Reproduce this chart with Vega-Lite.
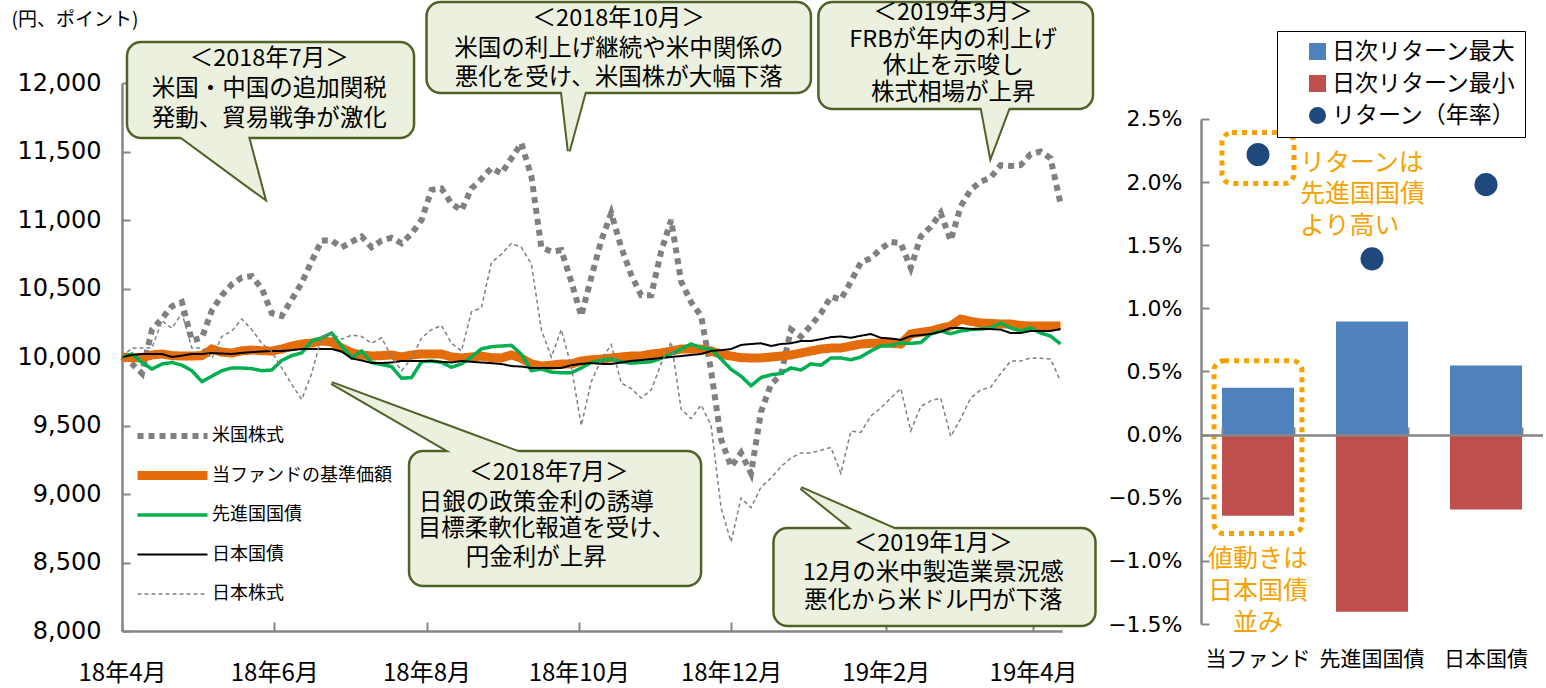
{
"$schema":"https://vega.github.io/schema/vega-lite/v6.json",
"background":"white",
"padding":{"left":11,"top":0,"right":0,"bottom":0},
"spacing":10,
"resolve":{"scale":{"color":"independent","shape":"independent","strokeDash":"independent","strokeWidth":"independent"},"legend":{"color":"independent","shape":"independent","strokeDash":"independent","strokeWidth":"independent"}},
"config":{"view":{"stroke":null},"axis":{"grid":false},"text":{"font":"Noto Sans CJK JP"}},
"datasets":{
"ts":[
{"d":"2018-04-01","us":10000,"fd":10000,"dv":10000,"jg":10000,"jp":10000},
{"d":"2018-04-05","us":9950,"fd":9995,"dv":10022,"jg":10015,"jp":10066},
{"d":"2018-04-09","us":9880,"fd":9995,"dv":9960,"jg":10022,"jp":10066},
{"d":"2018-04-13","us":10200,"fd":10015,"dv":9912,"jg":10022,"jp":10066},
{"d":"2018-04-17","us":10280,"fd":10022,"dv":9949,"jg":10022,"jp":10263},
{"d":"2018-04-21","us":10370,"fd":10010,"dv":9960,"jg":10000,"jp":10210},
{"d":"2018-04-25","us":10400,"fd":10007,"dv":9940,"jg":10010,"jp":10320},
{"d":"2018-04-29","us":10120,"fd":10007,"dv":9900,"jg":10022,"jp":10066},
{"d":"2018-05-03","us":10140,"fd":10010,"dv":9820,"jg":10022,"jp":10066},
{"d":"2018-05-07","us":10340,"fd":10058,"dv":9860,"jg":10029,"jp":9990},
{"d":"2018-05-11","us":10450,"fd":10035,"dv":9900,"jg":10025,"jp":10150},
{"d":"2018-05-15","us":10530,"fd":10029,"dv":9920,"jg":10022,"jp":10190},
{"d":"2018-05-19","us":10580,"fd":10045,"dv":9920,"jg":10030,"jp":10277},
{"d":"2018-05-23","us":10590,"fd":10051,"dv":9915,"jg":10036,"jp":10200},
{"d":"2018-05-27","us":10500,"fd":10046,"dv":9900,"jg":10040,"jp":10100},
{"d":"2018-05-31","us":10320,"fd":10044,"dv":9905,"jg":10044,"jp":10040},
{"d":"2018-06-04","us":10300,"fd":10058,"dv":9975,"jg":10044,"jp":9920},
{"d":"2018-06-08","us":10420,"fd":10080,"dv":10010,"jg":10050,"jp":9800},
{"d":"2018-06-12","us":10540,"fd":10095,"dv":10030,"jg":10058,"jp":9690},
{"d":"2018-06-16","us":10700,"fd":10102,"dv":10117,"jg":10058,"jp":9880},
{"d":"2018-06-20","us":10850,"fd":10117,"dv":10140,"jg":10058,"jp":10150},
{"d":"2018-06-24","us":10850,"fd":10110,"dv":10175,"jg":10058,"jp":10170},
{"d":"2018-06-28","us":10800,"fd":10066,"dv":10080,"jg":10040,"jp":10130},
{"d":"2018-07-02","us":10840,"fd":10032,"dv":9993,"jg":9990,"jp":10160},
{"d":"2018-07-06","us":10880,"fd":10015,"dv":10044,"jg":9975,"jp":10150},
{"d":"2018-07-10","us":10800,"fd":10007,"dv":9960,"jg":9956,"jp":10100},
{"d":"2018-07-14","us":10850,"fd":10010,"dv":9945,"jg":9956,"jp":10140},
{"d":"2018-07-18","us":10870,"fd":10015,"dv":9930,"jg":9960,"jp":10000},
{"d":"2018-07-22","us":10830,"fd":10000,"dv":9845,"jg":9971,"jp":9900},
{"d":"2018-07-26","us":10900,"fd":10015,"dv":9850,"jg":9971,"jp":9990},
{"d":"2018-07-30","us":11000,"fd":10022,"dv":9965,"jg":9971,"jp":10140},
{"d":"2018-08-03","us":11220,"fd":10022,"dv":9971,"jg":9971,"jp":10200},
{"d":"2018-08-07","us":11230,"fd":10022,"dv":9960,"jg":9965,"jp":10230},
{"d":"2018-08-11","us":11120,"fd":10000,"dv":9925,"jg":9960,"jp":10100},
{"d":"2018-08-15","us":11070,"fd":9993,"dv":9950,"jg":9971,"jp":10044},
{"d":"2018-08-19","us":11230,"fd":10000,"dv":10000,"jg":9965,"jp":10330},
{"d":"2018-08-23","us":11300,"fd":10007,"dv":10060,"jg":9960,"jp":10360},
{"d":"2018-08-27","us":11380,"fd":9995,"dv":10075,"jg":9955,"jp":10690},
{"d":"2018-08-31","us":11340,"fd":9993,"dv":10080,"jg":9949,"jp":10750},
{"d":"2018-09-04","us":11450,"fd":10015,"dv":10085,"jg":9934,"jp":10830},
{"d":"2018-09-08","us":11560,"fd":9990,"dv":10020,"jg":9930,"jp":10800},
{"d":"2018-09-12","us":11320,"fd":9950,"dv":9900,"jg":9920,"jp":10680},
{"d":"2018-09-16","us":10800,"fd":9934,"dv":9912,"jg":9920,"jp":10200},
{"d":"2018-09-20","us":10770,"fd":9940,"dv":9890,"jg":9920,"jp":10000},
{"d":"2018-09-24","us":10780,"fd":9949,"dv":9885,"jg":9920,"jp":10200},
{"d":"2018-09-28","us":10550,"fd":9949,"dv":9885,"jg":9940,"jp":9930},
{"d":"2018-10-02","us":10300,"fd":9971,"dv":9920,"jg":9950,"jp":9500},
{"d":"2018-10-06","us":10580,"fd":9980,"dv":9960,"jg":9956,"jp":9820},
{"d":"2018-10-10","us":10850,"fd":9985,"dv":9975,"jg":9950,"jp":9980},
{"d":"2018-10-14","us":11050,"fd":9993,"dv":9985,"jg":9949,"jp":10090},
{"d":"2018-10-18","us":10800,"fd":10000,"dv":9965,"jg":9960,"jp":9810},
{"d":"2018-10-22","us":10600,"fd":10007,"dv":9955,"jg":9971,"jp":9770},
{"d":"2018-10-26","us":10450,"fd":10007,"dv":9960,"jg":9978,"jp":9700},
{"d":"2018-10-30","us":10450,"fd":10022,"dv":9965,"jg":9985,"jp":9760},
{"d":"2018-11-03","us":10770,"fd":10029,"dv":9990,"jg":9993,"jp":9950},
{"d":"2018-11-07","us":11000,"fd":10044,"dv":10020,"jg":10000,"jp":10110},
{"d":"2018-11-11","us":10550,"fd":10058,"dv":10058,"jg":10007,"jp":9620},
{"d":"2018-11-15","us":10400,"fd":10058,"dv":10095,"jg":10015,"jp":9550},
{"d":"2018-11-19","us":10300,"fd":10058,"dv":10066,"jg":10022,"jp":9650},
{"d":"2018-11-23","us":9900,"fd":10044,"dv":10058,"jg":10044,"jp":9500},
{"d":"2018-11-27","us":9400,"fd":10020,"dv":9985,"jg":10050,"jp":8900},
{"d":"2018-12-01","us":9200,"fd":10007,"dv":9910,"jg":10058,"jp":8650},
{"d":"2018-12-05","us":9300,"fd":9995,"dv":9860,"jg":10088,"jp":8970},
{"d":"2018-12-09","us":9150,"fd":9993,"dv":9790,"jg":10095,"jp":8900},
{"d":"2018-12-13","us":9600,"fd":9993,"dv":9850,"jg":10100,"jp":9050},
{"d":"2018-12-17","us":9800,"fd":10000,"dv":9870,"jg":10080,"jp":9117},
{"d":"2018-12-21","us":9870,"fd":10007,"dv":9880,"jg":10095,"jp":9200},
{"d":"2018-12-25","us":10200,"fd":10015,"dv":9920,"jg":10100,"jp":9263},
{"d":"2018-12-29","us":10150,"fd":10029,"dv":9905,"jg":10117,"jp":9300},
{"d":"2019-01-02","us":10230,"fd":10044,"dv":9950,"jg":10117,"jp":9300},
{"d":"2019-01-06","us":10320,"fd":10058,"dv":9940,"jg":10130,"jp":9320},
{"d":"2019-01-10","us":10440,"fd":10065,"dv":9993,"jg":10145,"jp":9340},
{"d":"2019-01-14","us":10420,"fd":10066,"dv":9993,"jg":10150,"jp":9150},
{"d":"2019-01-18","us":10550,"fd":10080,"dv":9980,"jg":10140,"jp":9460},
{"d":"2019-01-22","us":10690,"fd":10095,"dv":10000,"jg":10155,"jp":9450},
{"d":"2019-01-26","us":10720,"fd":10100,"dv":10044,"jg":10168,"jp":9570},
{"d":"2019-01-30","us":10790,"fd":10102,"dv":10080,"jg":10140,"jp":9628},
{"d":"2019-02-03","us":10840,"fd":10100,"dv":10085,"jg":10135,"jp":9700},
{"d":"2019-02-07","us":10830,"fd":10095,"dv":10102,"jg":10125,"jp":9770},
{"d":"2019-02-11","us":10650,"fd":10168,"dv":10100,"jg":10153,"jp":9460},
{"d":"2019-02-15","us":10880,"fd":10180,"dv":10105,"jg":10160,"jp":9640},
{"d":"2019-02-19","us":10950,"fd":10190,"dv":10168,"jg":10168,"jp":9680},
{"d":"2019-02-23","us":11050,"fd":10210,"dv":10190,"jg":10185,"jp":9700},
{"d":"2019-02-27","us":10850,"fd":10226,"dv":10170,"jg":10212,"jp":9420},
{"d":"2019-03-03","us":11100,"fd":10277,"dv":10190,"jg":10212,"jp":9550},
{"d":"2019-03-07","us":11220,"fd":10260,"dv":10200,"jg":10205,"jp":9700},
{"d":"2019-03-11","us":11280,"fd":10248,"dv":10204,"jg":10204,"jp":9760},
{"d":"2019-03-15","us":11310,"fd":10245,"dv":10212,"jg":10204,"jp":9780},
{"d":"2019-03-19","us":11400,"fd":10241,"dv":10248,"jg":10200,"jp":9880},
{"d":"2019-03-23","us":11395,"fd":10241,"dv":10212,"jg":10175,"jp":9970},
{"d":"2019-03-27","us":11400,"fd":10230,"dv":10190,"jg":10175,"jp":9970},
{"d":"2019-03-31","us":11480,"fd":10226,"dv":10212,"jg":10190,"jp":9993},
{"d":"2019-04-04","us":11500,"fd":10226,"dv":10175,"jg":10190,"jp":9990},
{"d":"2019-04-08","us":11450,"fd":10226,"dv":10153,"jg":10190,"jp":9985},
{"d":"2019-04-12","us":11120,"fd":10226,"dv":10095,"jg":10204,"jp":9825}
],
"boxes":[
{"d1":"2018-04-03","d2":"2018-07-27","v1":12299,"v2":11598},
{"d1":"2018-08-01","d2":"2019-01-02","v1":12591,"v2":11927},
{"d1":"2019-01-05","d2":"2019-04-25","v1":12591,"v2":11810},
{"d1":"2018-07-25","d2":"2018-11-19","v1":9314,"v2":8328},
{"d1":"2018-12-18","d2":"2019-04-26","v1":8752,"v2":8036}
],
"tails":[
{"id":"A","d":"2018-04-22","hi":11642,"lo":11642},
{"id":"A","d":"2018-05-21","hi":11642,"lo":11253},
{"id":"A","d":"2018-05-28","hi":11161,"lo":11161},
{"id":"B","d":"2018-09-24","hi":11971,"lo":11971},
{"id":"B","d":"2018-09-27","hi":11971,"lo":11504},
{"id":"B","d":"2018-10-04","hi":11971,"lo":11971},
{"id":"C","d":"2019-03-11","hi":11854,"lo":11854},
{"id":"C","d":"2019-03-15","hi":11854,"lo":11467},
{"id":"C","d":"2019-03-23","hi":11854,"lo":11854},
{"id":"D","d":"2018-06-24","hi":9810,"lo":9810},
{"id":"D","d":"2018-08-14","hi":9466,"lo":9270},
{"id":"D","d":"2018-09-12","hi":9270,"lo":9270},
{"id":"E","d":"2018-12-29","hi":9044,"lo":9044},
{"id":"E","d":"2019-01-21","hi":8860,"lo":8708},
{"id":"E","d":"2019-02-09","hi":8708,"lo":8708}
],
"notes":[
{"d":"2018-05-30","v":12175,"t":"＜2018年7月＞"},
{"d":"2018-05-30","v":11956,"t":"米国・中国の追加関税"},
{"d":"2018-05-30","v":11737,"t":"発動、貿易戦争が激化"},
{"d":"2018-10-17","v":12467,"t":"＜2018年10月＞"},
{"d":"2018-10-17","v":12248,"t":"米国の利上げ継続や米中関係の"},
{"d":"2018-10-17","v":12037,"t":"悪化を受け、米国株が大幅下落"},
{"d":"2019-02-28","v":12511,"t":"＜2019年3月＞"},
{"d":"2019-02-28","v":12314,"t":"FRBが年内の利上げ"},
{"d":"2019-02-28","v":12124,"t":"休止を示唆し"},
{"d":"2019-02-28","v":11927,"t":"株式相場が上昇"},
{"d":"2018-09-19","v":9153,"t":"＜2018年7月＞"},
{"d":"2018-09-14","v":8934,"t":"日銀の政策金利の誘導"},
{"d":"2018-09-18","v":8745,"t":"目標柔軟化報道を受け、"},
{"d":"2018-09-14","v":8533,"t":"円金利が上昇"},
{"d":"2019-02-20","v":8635,"t":"＜2019年1月＞"},
{"d":"2019-02-20","v":8423,"t":"12月の米中製造業景況感"},
{"d":"2019-02-20","v":8219,"t":"悪化から米ドル円が下落"}
],
"bars":[
{"cat":"当ファンド","k":"日次リターン最大","v":0.00372},
{"cat":"当ファンド","k":"日次リターン最小","v":-0.00642},
{"cat":"先進国国債","k":"日次リターン最大","v":0.00895},
{"cat":"先進国国債","k":"日次リターン最小","v":-0.01402},
{"cat":"日本国債","k":"日次リターン最大","v":0.00547},
{"cat":"日本国債","k":"日次リターン最小","v":-0.00594}
],
"rets":[
{"cat":"当ファンド","k":"リターン（年率）","v":0.02218},
{"cat":"先進国国債","k":"リターン（年率）","v":0.01392},
{"cat":"日本国債","k":"リターン（年率）","v":0.0198}
],
"obox":[
{"cat":"当ファンド","g":"a","a":0.02392,"b":0.01988},
{"cat":"当ファンド","g":"b","a":0.00586,"b":-0.00784}
],
"onote":[
{"cat":"当ファンド","g":"r","v":0.02154,"t":"リターンは"},
{"cat":"当ファンド","g":"r","v":0.01909,"t":"先進国国債"},
{"cat":"当ファンド","g":"r","v":0.01655,"t":"より高い"},
{"cat":"当ファンド","g":"c","v":-0.00982,"t":"値動きは"},
{"cat":"当ファンド","g":"c","v":-0.01236,"t":"日本国債"},
{"cat":"当ファンド","g":"c","v":-0.01489,"t":"並み"}
]
},
"hconcat":[
{
"width":940,"height":548,
"layer":[
{
"data":{"name":"ts"},
"transform":[{"fold":["us","fd","dv","jg","jp"],"as":["s","v"]}],
"encoding":{
"x":{"field":"d","type":"temporal",
 "scale":{"type":"utc","nice":false,"domain":[{"year":2018,"month":4,"date":1,"utc":true},{"year":2019,"month":4,"date":12,"hours":14,"utc":true}]},
 "axis":{"title":null,"values":[{"year":2018,"month":4,"date":1,"utc":true},{"year":2018,"month":6,"date":1,"utc":true},{"year":2018,"month":8,"date":1,"utc":true},{"year":2018,"month":10,"date":1,"utc":true},{"year":2018,"month":12,"date":1,"utc":true},{"year":2019,"month":2,"date":1,"utc":true},{"year":2019,"month":4,"date":1,"utc":true}],
  "labelExpr":"utcFormat(datum.value,'%y') + '年' + (utcmonth(datum.value)+1) + '月'",
  "domainColor":"#868686","domainWidth":2.5,"tickColor":"#868686","tickWidth":2,"tickSize":-9,
  "labelFont":"Noto Sans CJK JP","labelFontSize":24,"labelColor":"#000","labelPadding":39,"labelFlush":false,"labelOverlap":false}},
"y":{"field":"v","type":"quantitative",
 "scale":{"domain":[8000,12000],"nice":false,"zero":false},
 "axis":{"title":"(円、ポイント)","values":[8000,8500,9000,9500,10000,10500,11000,11500,12000],"format":",d",
  "domainColor":"#868686","domainWidth":2.5,"tickColor":"#868686","tickWidth":2,"tickSize":-8,
  "labelFont":"DejaVu Sans","labelFontSize":24,"labelColor":"#000","labelPadding":29,
  "titleAngle":0,"titleX":-111,"titleY":-64,"titleAlign":"left","titleBaseline":"middle","titleFont":"Noto Sans CJK JP","titleFontSize":19,"titleFontWeight":"normal","titleColor":"#000"}},
"color":{"field":"s","type":"nominal","scale":{"domain":["us","fd","dv","jg","jp"],"range":["#808080","#E46C0A","#00B050","#000000","#808080"]},
 "legend":{"title":null,"orient":"none","legendX":11,"legendY":335,"symbolType":"stroke","symbolSize":4900,"clipHeight":36,"labelFont":"Noto Sans CJK JP","labelFontSize":18,"labelColor":"#000","labelLimit":400,"rowPadding":3.5,"labelOffset":0,"padding":0,
  "labelExpr":"datum.label==='us'?'米国株式':datum.label==='fd'?'当ファンドの基準価額':datum.label==='dv'?'先進国国債':datum.label==='jg'?'日本国債':'日本株式'"}},
"strokeDash":{"field":"s","type":"nominal","scale":{"domain":["us","fd","dv","jg","jp"],"range":[[6,5],[1,0],[1,0],[1,0],[4,3]]},
 "legend":{"title":null,"orient":"none","legendX":11,"legendY":335,"symbolType":"stroke","symbolSize":4900,"clipHeight":36,"labelFont":"Noto Sans CJK JP","labelFontSize":18,"labelColor":"#000","labelLimit":400,"rowPadding":3.5,"labelOffset":0,"padding":0,
  "labelExpr":"datum.label==='us'?'米国株式':datum.label==='fd'?'当ファンドの基準価額':datum.label==='dv'?'先進国国債':datum.label==='jg'?'日本国債':'日本株式'"}},
"strokeWidth":{"field":"s","type":"nominal","scale":{"type":"ordinal","domain":["us","fd","dv","jg","jp"],"range":[6,9,3.5,2,1.5]},
 "legend":{"title":null,"orient":"none","legendX":11,"legendY":335,"symbolType":"stroke","symbolSize":4900,"clipHeight":36,"labelFont":"Noto Sans CJK JP","labelFontSize":18,"labelColor":"#000","labelLimit":400,"rowPadding":3.5,"labelOffset":0,"padding":0,
  "labelExpr":"datum.label==='us'?'米国株式':datum.label==='fd'?'当ファンドの基準価額':datum.label==='dv'?'先進国国債':datum.label==='jg'?'日本国債':'日本株式'"}}
},
"layer":[
{"transform":[{"filter":"datum.s==='us'"}],"mark":{"type":"line"}},
{"transform":[{"filter":"datum.s==='fd'"}],"mark":{"type":"line"}},
{"transform":[{"filter":"datum.s==='dv'"}],"mark":{"type":"line"}},
{"transform":[{"filter":"datum.s==='jg'"}],"mark":{"type":"line"}},
{"transform":[{"filter":"datum.s==='jp'"}],"mark":{"type":"line"}}
]
},
{"data":{"name":"tails"},"mark":{"type":"area","fill":"#EBF1DE","stroke":"#4F6228","strokeWidth":4,"strokeJoin":"miter"},
 "encoding":{"x":{"field":"d","type":"temporal"},"y":{"field":"hi","type":"quantitative"},"y2":{"field":"lo"},"detail":{"field":"id","type":"nominal"}}},
{"data":{"name":"boxes"},"mark":{"type":"rect","fill":"#EBF1DE","stroke":"#4F6228","strokeWidth":2.5,"cornerRadius":14},
 "encoding":{"x":{"field":"d1","type":"temporal"},"x2":{"field":"d2"},"y":{"field":"v1","type":"quantitative"},"y2":{"field":"v2"}}},
{"data":{"name":"tails"},"mark":{"type":"area","fill":"#EBF1DE","strokeWidth":0},
 "encoding":{"x":{"field":"d","type":"temporal"},"y":{"field":"hi","type":"quantitative"},"y2":{"field":"lo"},"detail":{"field":"id","type":"nominal"}}},
{"data":{"name":"notes"},"mark":{"type":"text","fontSize":23.5,"font":"Noto Sans CJK JP","color":"#000","align":"center","baseline":"middle"},
 "encoding":{"x":{"field":"d","type":"temporal"},"y":{"field":"v","type":"quantitative"},"text":{"field":"t"}}}
]
},
{
"width":342,"height":541,
"resolve":{"axis":{"x":"independent"}},
"layer":[
{"data":{"name":"bars"},"mark":{"type":"bar"},
 "encoding":{
 "x":{"field":"cat","type":"nominal","sort":["当ファンド","先進国国債","日本国債"],"scale":{"paddingInner":0.368,"paddingOuter":0.184},
  "axis":{"title":null,"domain":false,"ticks":false,"labelAngle":0,"labelFont":"Noto Sans CJK JP","labelFontSize":21,"labelColor":"#000","labelPadding":24}},
 "y":{"field":"v","type":"quantitative","stack":null,"scale":{"domain":[-0.015,0.02785],"nice":false,"zero":false},
  "axis":{"title":null,"values":[-0.015,-0.01,-0.005,0,0.005,0.01,0.015,0.02,0.025],"format":".1%","labelFont":"DejaVu Sans","labelFontSize":22,"labelColor":"#000",
   "domainColor":"#868686","domainWidth":2.5,"domainDash":[505,300],"tickColor":"#868686","tickWidth":2,"tickSize":-8,"labelPadding":27}},
 "color":{"field":"k","type":"nominal","scale":{"domain":["日次リターン最大","日次リターン最小","リターン（年率）"],"range":["#4F81BD","#C0504D","#1F497D"]},
  "legend":{"title":null,"orient":"none","legendX":76,"legendY":-52,"padding":9,"strokeColor":"#000","fillColor":"#fff","labelFont":"Noto Sans CJK JP","labelFontSize":23,"labelColor":"#000","symbolSize":290,"symbolStrokeWidth":0,"rowPadding":8,"symbolOffset":20,"labelOffset":3,"labelLimit":400}}
 }},
{"data":{"name":"rets"},"mark":{"type":"point","filled":true,"size":530,"opacity":1,"strokeWidth":0},
 "encoding":{
 "x":{"field":"cat","type":"nominal","sort":["当ファンド","先進国国債","日本国債"],"axis":null},
 "y":{"field":"v","type":"quantitative"},
 "color":{"field":"k","type":"nominal","scale":{"domain":["日次リターン最大","日次リターン最小","リターン（年率）"],"range":["#4F81BD","#C0504D","#1F497D"]},
  "legend":{"title":null,"orient":"none","legendX":76,"legendY":-52,"padding":9,"strokeColor":"#000","fillColor":"#fff","labelFont":"Noto Sans CJK JP","labelFontSize":23,"labelColor":"#000","symbolSize":290,"symbolStrokeWidth":0,"rowPadding":8,"symbolOffset":20,"labelOffset":3,"labelLimit":400}},
 "shape":{"field":"k","type":"nominal","scale":{"domain":["日次リターン最大","日次リターン最小","リターン（年率）"],"range":["square","square","circle"]},
  "legend":{"title":null,"orient":"none","legendX":76,"legendY":-52,"padding":9,"strokeColor":"#000","fillColor":"#fff","labelFont":"Noto Sans CJK JP","labelFontSize":23,"labelColor":"#000","symbolSize":290,"symbolStrokeWidth":0,"rowPadding":8,"symbolOffset":20,"labelOffset":3,"labelLimit":400}}
 }},
{"data":{"name":"obox"},"transform":[{"filter":"datum.g==='a'"}],"mark":{"type":"bar","width":{"band":1},"fill":"transparent","stroke":"#F5A200","strokeWidth":5,"strokeDash":[5,5],"cornerRadius":10},
 "encoding":{
 "x":{"field":"cat","type":"nominal","sort":["当ファンド","先進国国債","日本国債"],
  "axis":{"title":null,"orient":"bottom","offset":-189,"zindex":1,"domain":true,"domainColor":"#868686","domainWidth":2.5,"ticks":true,"tickBand":"extent","tickColor":"#868686","tickWidth":2,"tickSize":-8,"labels":false}},
 "y":{"field":"a","type":"quantitative"},"y2":{"field":"b"}}},
{"data":{"name":"obox"},"transform":[{"filter":"datum.g==='b'"}],"mark":{"type":"bar","width":{"band":1.22},"fill":"transparent","stroke":"#F5A200","strokeWidth":5,"strokeDash":[5,5],"cornerRadius":10},
 "encoding":{
 "x":{"field":"cat","type":"nominal","sort":["当ファンド","先進国国債","日本国債"],"axis":null},
 "y":{"field":"a","type":"quantitative"},"y2":{"field":"b"}}},
{"data":{"name":"onote"},"transform":[{"filter":"datum.g==='r'"}],"mark":{"type":"text","align":"left","baseline":"middle","dx":6,"fontSize":25,"font":"Noto Sans CJK JP","color":"#F5A200"},
 "encoding":{
 "x":{"field":"cat","type":"nominal","sort":["当ファンド","先進国国債","日本国債"],"bandPosition":1,"axis":null},
 "y":{"field":"v","type":"quantitative"},"text":{"field":"t"}}},
{"data":{"name":"onote"},"transform":[{"filter":"datum.g==='c'"}],"mark":{"type":"text","align":"center","baseline":"middle","fontSize":25,"font":"Noto Sans CJK JP","color":"#F5A200"},
 "encoding":{
 "x":{"field":"cat","type":"nominal","sort":["当ファンド","先進国国債","日本国債"],"axis":null},
 "y":{"field":"v","type":"quantitative"},"text":{"field":"t"}}}
]
}
]
}
